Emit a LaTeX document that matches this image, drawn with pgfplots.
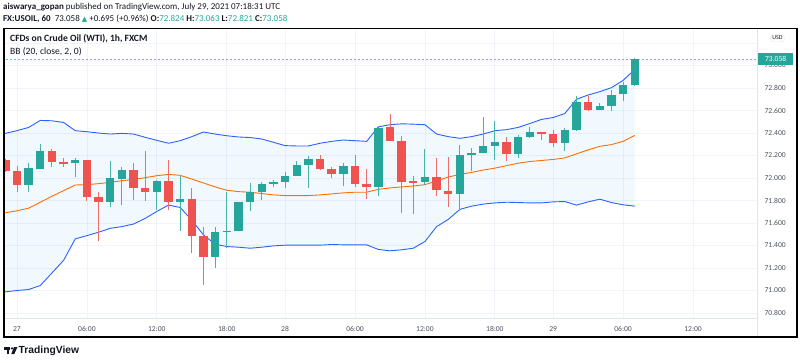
\documentclass[border=0pt]{standalone}
\usepackage{pgfplots}
\pgfplotsset{compat=1.18}
\usepackage{pgfplotstable}
\usepgfplotslibrary{fillbetween}
\usepackage{fontspec}
\setmainfont{Carlito}
\newfontfamily\dejavu{DejaVu Sans}
\newfontfamily\lib{Liberation Sans}
\definecolor{tvgreen}{HTML}{26A69A}
\definecolor{tvred}{HTML}{EF5350}
\definecolor{tvblue}{HTML}{2962FF}
\definecolor{tvorange}{HTML}{FF6D00}
\definecolor{tvtext}{HTML}{131722}
\definecolor{tvgrid}{HTML}{F0F3FA}
\definecolor{tvfill}{HTML}{2196F3}
\definecolor{tvsep}{HTML}{E0E3EB}
\definecolor{tvtick}{HTML}{4C525E}

% Green (rising) candles: index, open, high, low, close
\pgfplotstableread{
i  o      h      l      c
1  71.935 72.132 71.876 72.085
2  72.082 72.303 72.080 72.238
5  72.130 72.179 72.006 72.159
8  71.788 72.150 71.744 72.000
9  71.994 72.100 71.765 72.071
12 71.874 71.980 71.712 71.976
14 71.788 72.026 71.529 71.818
17 71.303 71.568 71.200 71.521
18 71.521 71.879 71.376 71.532
19 71.532 71.791 71.532 71.791
20 71.791 71.956 71.703 71.874
21 71.874 71.962 71.803 71.947
22 71.947 71.985 71.926 71.962
23 71.962 72.053 71.909 72.021
24 72.021 72.150 72.020 72.121
25 72.121 72.194 71.909 72.171
28 72.038 72.132 71.935 72.109
31 71.918 72.450 71.844 72.450
35 71.962 72.259 71.941 72.012
38 71.859 72.294 71.721 72.206
39 72.206 72.271 72.059 72.221
40 72.221 72.544 72.220 72.285
41 72.285 72.509 72.162 72.318
43 72.215 72.385 72.179 72.362
44 72.362 72.450 72.356 72.406
47 72.315 72.444 72.244 72.426
48 72.426 72.735 72.418 72.679
50 72.606 72.665 72.603 72.641
51 72.641 72.788 72.597 72.744
52 72.744 72.853 72.685 72.824
53 72.824 73.063 72.821 73.058
}\greencandles

% Red (falling) candles: index, open, high, low, close
\pgfplotstableread{
i  o      h      l      c
-1 72.162 72.170 72.050 72.062
0  72.065 72.106 71.876 71.935
3  72.238 72.259 72.103 72.141
4  72.144 72.179 72.103 72.130
6  72.159 72.159 71.800 71.829
7  71.832 71.876 71.444 71.788
10 72.071 72.132 71.803 71.909
11 71.909 72.241 71.794 71.874
13 71.976 72.162 71.715 71.788
15 71.818 71.909 71.332 71.485
16 71.485 71.562 71.053 71.303
26 72.171 72.206 72.071 72.079
27 72.082 72.097 72.006 72.038
29 72.109 72.206 71.918 71.944
30 71.947 72.082 71.815 71.918
32 72.450 72.574 72.329 72.329
33 72.329 72.376 71.691 71.968
34 71.971 72.018 71.685 71.962
36 72.012 72.179 71.838 71.891
37 71.888 72.188 71.744 71.859
42 72.318 72.368 72.156 72.215
45 72.406 72.406 72.341 72.391
46 72.391 72.426 72.274 72.315
49 72.679 72.726 72.597 72.606
}\redcandles

% Bollinger bands (20, close, 2): index, upper, basis, lower
\pgfplotstableread{
i    u      m      l
-1.3 72.395 71.688 70.986
-1   72.397 71.691 70.988
0    72.421 71.709 71.000
1    72.450 71.732 71.009
2    72.512 71.785 71.044
3    72.509 71.838 71.156
4    72.494 71.888 71.268
5    72.421 71.938 71.459
6    72.412 71.941 71.488
7    72.400 71.950 71.518
8    72.391 71.962 71.553
9    72.397 71.976 71.568
10   72.391 71.988 71.591
11   72.362 72.003 71.641
12   72.335 72.021 71.703
13   72.309 72.032 71.759
14   72.332 72.024 71.738
15   72.368 71.991 71.626
16   72.409 71.956 71.494
17   72.391 71.921 71.412
18   72.376 71.891 71.391
19   72.365 71.879 71.385
20   72.360 71.874 71.376
21   72.347 71.862 71.385
22   72.318 71.850 71.397
23   72.288 71.844 71.403
24   72.285 71.844 71.403
25   72.285 71.844 71.403
26   72.309 71.850 71.403
27   72.326 71.859 71.409
28   72.338 71.868 71.406
29   72.332 71.874 71.406
30   72.326 71.874 71.406
31   72.455 71.900 71.365
32   72.474 71.912 71.353
33   72.482 71.921 71.362
34   72.479 71.929 71.376
35   72.474 71.941 71.435
36   72.391 71.974 71.568
37   72.368 72.009 71.632
38   72.353 72.032 71.721
39   72.368 72.050 71.750
40   72.391 72.071 71.768
41   72.421 72.088 71.779
42   72.430 72.110 71.785
43   72.450 72.132 71.782
44   72.485 72.147 71.779
45   72.521 72.156 71.779
46   72.538 72.165 71.788
47   72.574 72.179 71.791
48   72.700 72.215 71.759
49   72.738 72.250 71.788
50   72.768 72.282 71.812
51   72.803 72.297 71.782
52   72.868 72.326 71.762
53   72.965 72.379 71.750
}\bands

% Last price line
\pgfplotstableread{
i     p
-1.3  73.058
63.6  73.058
}\lastprice

\begin{document}
\begin{tikzpicture}
\begin{axis}[
  at={(4.5pt,44pt)}, anchor=south west, scale only axis,
  width=752.5pt, height=288pt,
  xmin=-1.07, xmax=63.49, ymin=70.7556, ymax=73.316,
  axis line style={draw=none},
  clip mode=individual,
  xtick={0,6,12,18,23,29,35,41,46,52,58},
  xticklabels={27,06:00,12:00,18:00,28,06:00,12:00,18:00,29,06:00,12:00},
  ytick={70.8,71.0,71.2,71.4,71.6,71.8,72.0,72.2,72.4,72.6,72.8,73.0},
  extra y ticks={73.2}, extra y tick labels={},
  extra tick style={grid=major},
  grid=major,
  major grid style={draw=tvgrid, line width=0.8pt},
  tick style={draw=none},
  yticklabel pos=right,
  /pgf/number format/assume math mode=true,
  yticklabel style={/pgf/number format/fixed, /pgf/number format/fixed zerofill,
    /pgf/number format/precision=3, font=\fontsize{7.6}{8}\selectfont,
    text=tvtick, anchor=west, xshift=4pt},
  xticklabel style={font=\fontsize{7.6}{8}\selectfont, text=tvtick, anchor=north, yshift=-5pt},
]
% Bollinger band background
\addplot[draw=none, name path=up, forget plot] table[x=i, y=u]{\bands};
\addplot[draw=none, name path=lo, forget plot] table[x=i, y=l]{\bands};
\addplot[fill=tvfill, fill opacity=0.06, draw=none, forget plot] fill between[of=up and lo];
% bands
\addplot[tvblue, line width=0.9pt, mark=none] table[x=i, y=u]{\bands};
\addplot[tvorange, line width=0.9pt, mark=none] table[x=i, y=m]{\bands};
\addplot[tvblue, line width=0.9pt, mark=none] table[x=i, y=l]{\bands};
% last price line
\addplot[tvgreen!70, line width=0.6pt, dash pattern=on 2pt off 2pt, mark=none] table[x=i, y=p]{\lastprice};
% wicks
\addplot[draw=none, mark=none, forget plot,
  error bars/.cd, y dir=both, y explicit, error mark=none,
  error bar style={draw=tvgreen!85, line width=0.9pt}]
  table[x=i, y expr={(\thisrow{h}+\thisrow{l})/2}, y error expr={(\thisrow{h}-\thisrow{l})/2}]{\greencandles};
\addplot[draw=none, mark=none, forget plot,
  error bars/.cd, y dir=both, y explicit, error mark=none,
  error bar style={draw=tvred!85, line width=0.9pt}]
  table[x=i, y expr={(\thisrow{h}+\thisrow{l})/2}, y error expr={(\thisrow{h}-\thisrow{l})/2}]{\redcandles};
% bodies
\addplot[draw=none, mark=none, forget plot,
  error bars/.cd, y dir=both, y explicit, error mark=none,
  error bar style={draw=tvgreen, line width=8.4pt}]
  table[x=i, y expr={(\thisrow{o}+\thisrow{c})/2}, y error expr={max(abs(\thisrow{o}-\thisrow{c})/2,0.0045)}]{\greencandles};
\addplot[draw=none, mark=none, forget plot,
  error bars/.cd, y dir=both, y explicit, error mark=none,
  error bar style={draw=tvred, line width=8.4pt}]
  table[x=i, y expr={(\thisrow{o}+\thisrow{c})/2}, y error expr={max(abs(\thisrow{o}-\thisrow{c})/2,0.0045)}]{\redcandles};
\end{axis}

% separators
\fill[tvsep] (4pt,43.6pt) rectangle (757.4pt,44.4pt);
\fill[tvsep] (756.6pt,25pt) rectangle (757.4pt,333pt);
% frame
\fill[black] (2.5pt,24.3pt) rectangle (4.8pt,334.2pt);
\fill[black] (2.5pt,24.3pt) rectangle (797.8pt,25.9pt);
\fill[black] (2.5pt,332.6pt) rectangle (797.8pt,334.2pt);
\fill[black] (796.2pt,24.3pt) rectangle (797.8pt,334.2pt);

% last price label and currency box
\node[fill=tvgreen, text=white, inner sep=0pt, minimum width=35pt, minimum height=12pt,
  anchor=west, font=\fontsize{7.6}{8}\selectfont] at (758pt,303pt) {73.058};
\node[fill=white, draw=tvsep, rounded corners=2pt, inner sep=1.5pt, text=tvtext,
  font=\fontsize{6}{7}\selectfont] at (777.5pt,324pt) {USD};

% pane titles
\node[anchor=west, inner sep=0pt, text=tvtext, font=\fontsize{9.6}{11}\selectfont\bfseries] at (10pt,323pt) {CFDs on Crude Oil (WTI), 1h, FXCM};
\node[anchor=west, inner sep=0pt, text=tvtext, font=\fontsize{9.6}{11}\selectfont] at (10pt,310.5pt) {BB (20, close, 2, 0)};

% header
\node[anchor=west, inner sep=0pt, text=tvtext, font=\fontsize{9}{10}\selectfont] at (3pt,355pt)
  {\textbf{aiswarya\_gopan} published on TradingView.com, July 29, 2021 07:18:31 UTC};
\node[anchor=west, inner sep=0pt, text=tvtext, font=\fontsize{9}{10}\selectfont] at (3pt,343.5pt)
  {\textbf{FX:USOIL, 60}\ \ 73.058 {\color{tvgreen}\dejavu\fontsize{7}{8}\selectfont ▲} +0.695 (+0.96\%) \textbf{O:}\textcolor{tvgreen}{72.824} \textbf{H:}\textcolor{tvgreen}{73.063} \textbf{L:}\textcolor{tvgreen}{72.821} \textbf{C:}\textcolor{tvgreen}{73.058}};

% TradingView logo
\fill[tvtext] (4pt,15pt) rectangle (10pt,12.5pt);
\fill[tvtext] (6.8pt,12.5pt) rectangle (9.3pt,8pt);
\fill[tvtext] (12pt,13.6pt) circle (1.3pt);
\fill[tvtext] (14pt,15pt) -- (17.5pt,15pt) -- (14.3pt,8pt) -- (11.3pt,8pt) -- cycle;
\node[anchor=west, inner sep=0pt, text=tvtext, font=\lib\fontsize{10.3}{11}\selectfont\bfseries] at (18.5pt,11.5pt) {TradingView};

\pgfresetboundingbox
\useasboundingbox (0pt,0pt) rectangle (800pt,362pt);
\end{tikzpicture}
\end{document}
